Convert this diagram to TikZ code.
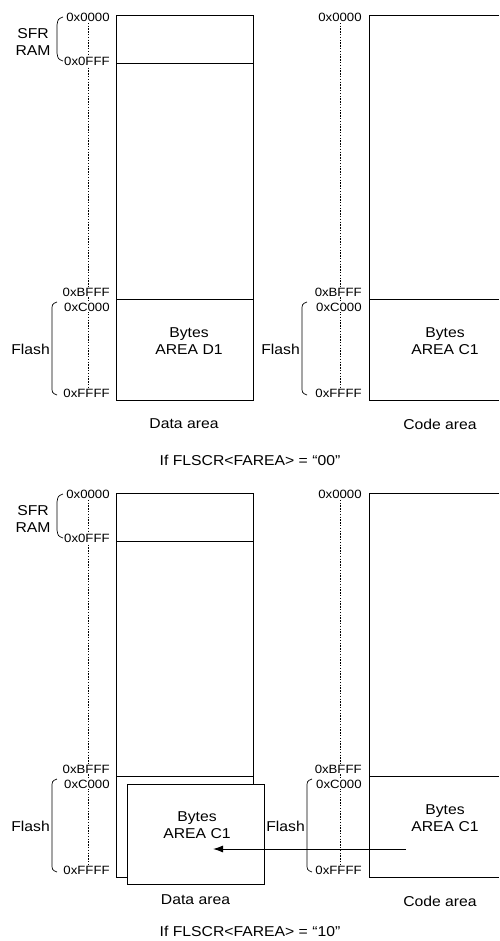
\documentclass[tikz,border=0pt]{standalone}
\usepackage{fontspec}
\setmainfont{Liberation Sans}
\usetikzlibrary{positioning}
\usetikzlibrary{arrows.meta}

\tikzset{
  memline/.style={line width=1pt},
  dots/.style={line width=0.8pt, dash pattern=on 1.4pt off 1.4pt},
  brk/.style={line width=0.7pt},
  lbl/.style={font=\fontsize{14.3}{17}\selectfont, xscale=1.1, inner sep=0pt, align=center},
  addr/.style={font=\fontsize{12}{13}\selectfont, xscale=1.1, fill=white, inner sep=1pt, anchor=east},
}

\begin{document}
\begin{tikzpicture}[x=1pt, y=-1pt]
    \useasboundingbox (0,0) rectangle (499,941);

    \foreach \o/\v/\bx/\cy in {0/00/302/460, 477/10/307/454}{
    \begin{scope}[shift={(0,\o)}]
        % data area
        \draw[memline] (116,16) rectangle (253,400);
        \draw[memline] (116,64) -- (253,64);
        \draw[memline] (116,299) -- (253,299);
        \draw[dots] (88,20) -- (88,392);
        \node[addr] (da\v) at (111,17) {0x0000};
        \node[addr] (db\v) at (111,61) {0x0FFF};
        \node[addr] (dc\v) at (111,292) {0xBFFF};
        \node[addr] (dd\v) at (111,307) {0xC000};
        \node[addr] (de\v) at (111,393) {0xFFFF};
        \draw[brk] (63,17) .. controls (58,19) .. (57,25) -- (57,53) .. controls (58,59) .. (63,61);
        \node[lbl] (sfr\v) at (33,42) {SFR\\RAM};
        \draw[brk] (57,302) .. controls (52,304) .. (52,311) -- (52,386) .. controls (52,393) .. (57,395);
        \node[lbl, anchor=east] (dfl\v) at (50,349) {Flash};

        % code area
        \draw[memline] (499,16) -- (369,16) -- (369,400) -- (499,400);
        \draw[memline] (369,299) -- (499,299);
        \draw[dots] (340,20) -- (340,392);
        \node[addr] (ca\v) at (363,17) {0x0000};
        \node[addr] (cc\v) at (363,292) {0xBFFF};
        \node[addr] (cd\v) at (363,307) {0xC000};
        \node[addr] (ce\v) at (363,393) {0xFFFF};
        \draw[brk] (\bx+5,302) .. controls (\bx,304) .. (\bx,311) -- (\bx,386) .. controls (\bx,393) .. (\bx+5,395);
        \node[lbl, anchor=east] (cfl\v) at (\bx-2,349) {Flash};
        \node[lbl] (cby\v) at (445,341) {Bytes\\AREA C1};
        \node[lbl] (carea\v) at (440,424) {Code area};

        \node[lbl] (cond\v) at (250,\cy) {If FLSCR<FAREA> = “\v”};
    \end{scope}
    }

    % FAREA = 00
    \node[lbl] (dby) at (189,341) {Bytes\\AREA D1};
    \node[lbl] (darea) at (184,424) {Data area};

    % FAREA = 10
    \node[memline, draw, fill=white, minimum width=137pt, minimum height=100pt, inner sep=0pt] (ovl) at (195.5,834) {};
    \node[lbl] (oby) at (197,825) {Bytes\\AREA C1};
    \node[lbl, below=10pt of ovl] (oarea) {Data area};
    \coordinate (src) at (406,849);
    \coordinate (dst) at (213,849);
    \draw[memline, -{Latex[length=10pt,width=7pt]}] (src) -- (dst);
\end{tikzpicture}
\end{document}
